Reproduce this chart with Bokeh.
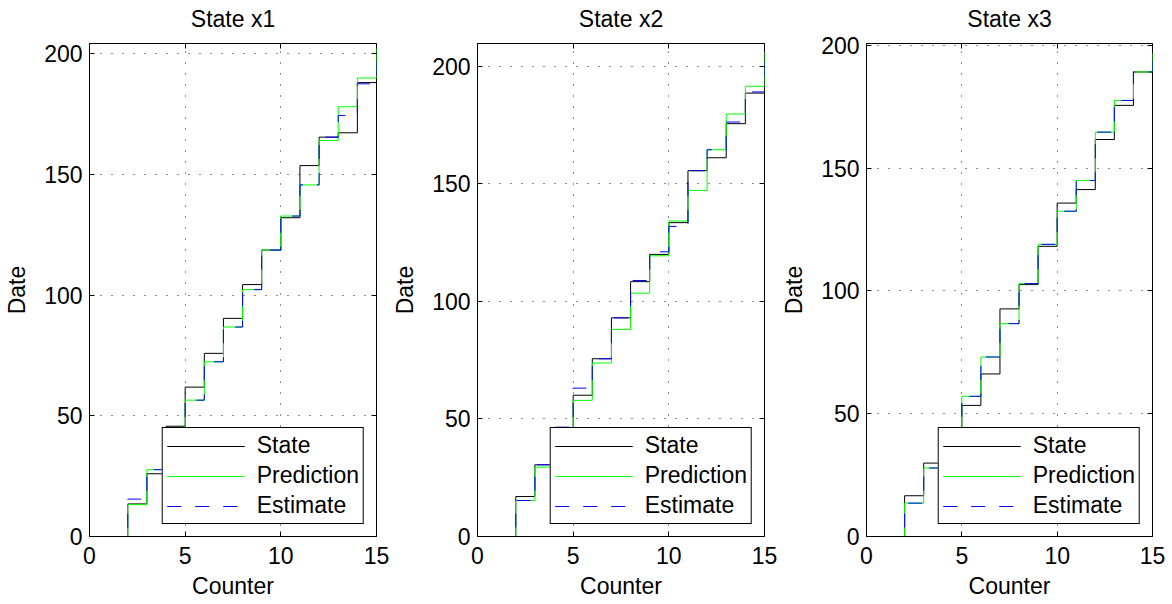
import numpy as np
from bokeh.plotting import figure
from bokeh.layouts import row
from bokeh.models import Range1d, LinearAxis, FixedTicker
from bokeh.embed import file_html
from bokeh.resources import INLINE

counter = list(range(1, 16))

titles = ["State x1", "State x2", "State x3"]

state_x1 = [0, 13.5, 26, 45.7, 61.9, 75.9, 90.4, 104.4, 118.7, 132.1, 153.7, 165.5, 167.3, 188.1, 200]
pred_x1 = [0, 13.2, 27.7, 42, 56.5, 72.4, 86.8, 102.3, 118.7, 132.8, 145.7, 164.1, 178.1, 190, 204.3]
est_x1 = [0, 15.5, 27.7, 43, 56.5, 72.4, 86.8, 102.3, 118.7, 132.8, 145.7, 165.5, 174.5, 187.6, 203]

state_x2 = [0, 17, 30.5, 45, 60.1, 75.6, 93, 108.4, 120, 133.5, 155.6, 161.1, 175.6, 188.6, 203]
pred_x2 = [0, 15.3, 29.5, 44, 57.9, 73.8, 88.1, 103.5, 119.4, 134.2, 147.2, 164.5, 179.7, 191.5, 206]
est_x2 = [0, 15.3, 30.5, 46.5, 63.1, 75.6, 93, 108.9, 121.1, 131.9, 155.6, 164.5, 176.3, 189.1, 209.7]

state_x3 = [0, 16.6, 29.9, 43, 53.4, 66.2, 92.7, 102.6, 118.2, 135.8, 141.3, 161.7, 175.6, 189.2, 193]
pred_x3 = [0, 13.6, 27.9, 41, 57.1, 73.1, 86.7, 103, 119, 132.5, 145, 164.7, 177.6, 189.2, 197]
est_x3 = [0, 13.6, 27.9, 41, 57.1, 73.1, 86.7, 103, 119, 132.5, 145, 164.7, 177.6, 189.2, 200.8]

x_ticks = [0, 5, 10, 15]
y_ticks = [0, 50, 100, 150, 200]

FONT = "Liberation Sans"
FS = "23px"
FRAME_H = 493

series = [(state_x1, pred_x1, est_x1), (state_x2, pred_x2, est_x2), (state_x3, pred_x3, est_x3)]
# (left border, frame width, right border)
geom = [(89, 287, 13), (85, 287, 14), (86, 286, 18)]

STYLES = [
    ("State", dict(line_color="black", line_width=1)),
    ("Prediction", dict(line_color="#00ff00", line_width=1)),
    ("Estimate", dict(line_color="blue", line_width=1, line_dash="14 14")),
]


def stairs(x, y):
    """Vertices of a 'stairs' trace (value held until the next x)."""
    xs = np.repeat(np.asarray(x, float), 2)[1:]
    ys = np.repeat(np.asarray(y, float), 2)[:-1]
    return xs, ys


figs = []
for i in range(3):
    ys_all = series[i]
    ymax = max(max(s) for s in ys_all)
    bl, fw, br = geom[i]
    p = figure(frame_width=fw, frame_height=FRAME_H,
               min_border_left=bl, min_border_right=br,
               min_border_top=43, min_border_bottom=68,
               x_range=Range1d(0, 15), y_range=Range1d(0, ymax),
               output_backend="svg", toolbar_location=None)

    p.outline_line_color = "black"
    p.outline_line_width = 1
    p.outline_line_alpha = 1

    for (name, sty), yv in zip(STYLES, ys_all):
        sx, sy = stairs(counter, yv)
        p.line(sx, sy, legend_label=name, **sty)

    for ax in (p.xaxis[0], p.yaxis[0]):
        ax.major_label_text_font = FONT
        ax.major_label_text_font_size = FS
        ax.major_label_text_color = "black"
        ax.axis_label_text_font = FONT
        ax.axis_label_text_font_size = FS
        ax.axis_label_text_font_style = "normal"
        ax.axis_label_text_color = "black"
        ax.major_tick_in = 5
        ax.major_tick_out = 0
        ax.minor_tick_line_color = None
        ax.axis_line_color = "black"
        ax.major_tick_line_color = "black"
    p.xaxis[0].ticker = FixedTicker(ticks=x_ticks)
    p.yaxis[0].ticker = FixedTicker(ticks=y_ticks)
    p.xaxis[0].axis_label = "Counter"
    p.yaxis[0].axis_label = "Date"
    p.xaxis[0].major_label_standoff = 10
    p.yaxis[0].major_label_standoff = 7
    p.xaxis[0].axis_label_standoff = 6
    p.yaxis[0].axis_label_standoff = 11

    for loc, tk in (("above", x_ticks), ("right", y_ticks)):
        ax = LinearAxis(ticker=FixedTicker(ticks=tk))
        ax.major_label_text_font_size = "1px"
        ax.major_label_text_color = None
        ax.major_label_standoff = 0
        ax.major_tick_in = 5
        ax.major_tick_out = 0
        ax.minor_tick_line_color = None
        ax.axis_line_color = None
        ax.major_tick_line_color = "black"
        if loc == "above":
            # the panel title sits on the top axis
            ax.axis_label = titles[i]
            ax.axis_label_text_font = FONT
            ax.axis_label_text_font_size = FS
            ax.axis_label_text_font_style = "normal"
            ax.axis_label_text_color = "black"
            ax.axis_label_standoff = 12
        p.add_layout(ax, loc)

    p.xgrid.ticker = FixedTicker(ticks=x_ticks)
    p.ygrid.ticker = FixedTicker(ticks=y_ticks)
    for g in (p.xgrid[0], p.ygrid[0]):
        g.grid_line_color = "black"
        g.grid_line_alpha = 0.9
        g.grid_line_dash = "1 10"
        g.grid_line_width = 1

    lg = p.legend[0]
    lg.location = "bottom_right"
    lg.margin = 12
    lg.padding = 4
    lg.spacing = 3
    lg.glyph_width = 78
    lg.glyph_height = 24
    lg.label_height = 24
    lg.label_standoff = 12
    lg.label_text_font = FONT
    lg.label_text_font_size = FS
    lg.label_text_color = "black"
    lg.border_line_color = "black"
    lg.border_line_width = 1
    lg.border_line_alpha = 1
    lg.background_fill_color = "white"
    lg.background_fill_alpha = 1
    figs.append(p)

layout = row(*figs)
open("out.html", "w").write(file_html(layout, INLINE))
